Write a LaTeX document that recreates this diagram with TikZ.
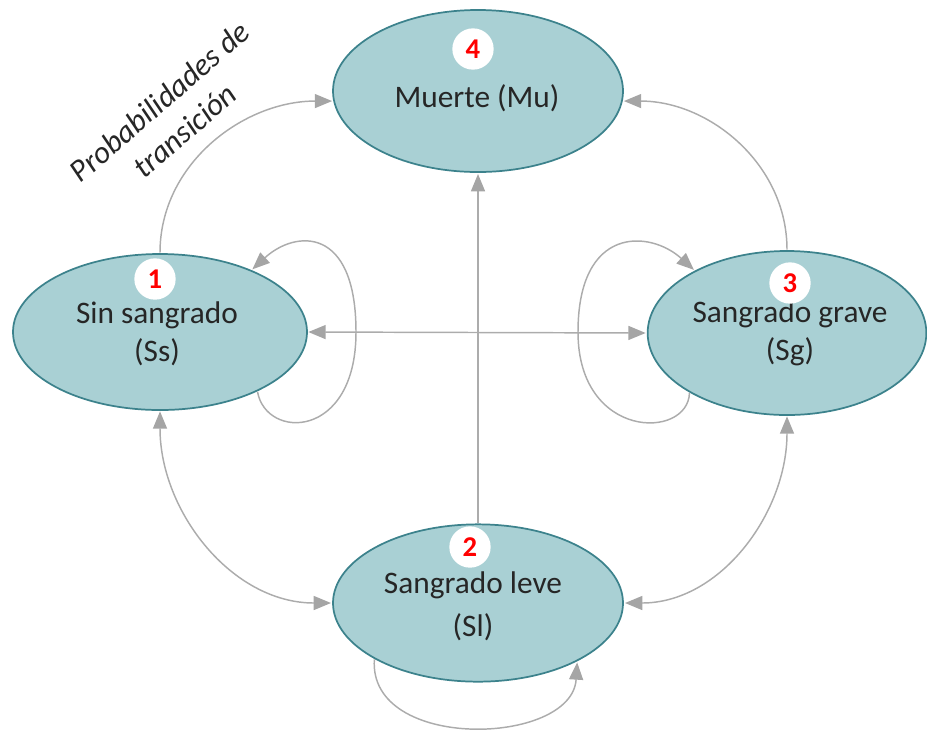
\documentclass[tikz,border=0pt]{standalone}
\usepackage{fontspec}
\setmainfont{Carlito}
\usetikzlibrary{arrows.meta,shapes.geometric}
\definecolor{efill}{RGB}{169,208,212}
\definecolor{edraw}{RGB}{60,130,140}
\definecolor{arr}{RGB}{172,172,172}
\definecolor{arrhead}{RGB}{165,165,165}
\tikzset{gt/.tip={Triangle[length=13pt,width=10.5pt,color=arrhead]}}
\begin{document}
\begin{tikzpicture}[x=0.75pt,y=-0.75pt,
  state/.style={ellipse,draw=edraw,fill=efill,line width=1.3pt,inner sep=0pt,outer sep=0pt},
  lbl/.style={font=\fontsize{23.5}{28}\selectfont,text=black!85,inner sep=0pt},
  badge/.style={circle,fill=white,minimum size=31pt,inner sep=0pt,text=red,font=\fontsize{21.5}{24}\bfseries\selectfont},
  conn/.style={draw=arr,line width=1.1pt,shorten >=1.5pt,shorten <=1pt},
  note/.style={font=\fontsize{23.5}{29}\itshape\selectfont,text=black!85,align=center,rotate=41,inner sep=0pt}]
\useasboundingbox (0,0) rectangle (927,733);
% states
\node[state,minimum width=217.5pt,minimum height=121.5pt] (mu) at (478,91) {};
\node[state,minimum width=220.5pt,minimum height=117pt] (ss) at (160,332) {};
\node[state,minimum width=209pt,minimum height=123pt] (sg) at (787,333) {};
\node[state,minimum width=217.5pt,minimum height=118pt] (sl) at (478,603) {};
% labels
\node[lbl] (tmu) at (477,98) {Muerte (Mu)};
\node[lbl] (tss1) at (157,315) {Sin sangrado};
\node[lbl] (tss2) at (157,352) {(Ss)};
\node[lbl] (tsg1) at (790,314) {Sangrado grave};
\node[lbl] (tsg2) at (790,352) {(Sg)};
\node[lbl] (tsl1) at (473,585) {Sangrado leve};
\node[lbl] (tsl2) at (473,627) {(Sl)};
% badges
\node[badge] (b4) at (473,49) {4};
\node[badge] (b1) at (155,279) {1};
\node[badge] (b3) at (790,283) {3};
\node[badge] (b2) at (470,547) {2};
% note
\node[note] (pt) at (172,116) {Probabilidades de\\transición};
% connectors
\draw[conn,-gt] (ss.north) to[out=90,in=180] (mu.184);
\draw[conn,-gt] (sg.north) to[out=90,in=0] (mu.-4);
\draw[conn,gt-gt] (ss.south) to[out=-90,in=180] (sl.west);
\draw[conn,gt-gt] (sg.south) to[out=-90,in=0] (sl.east);
\draw[conn,gt-gt] (ss.east) -- (sg.west);
\draw[conn,-gt] (sl.north) -- (mu.south);
% self loops
\draw[conn,-gt] (ss.-31) .. controls (266,440) and (356,440) .. (356,332)
  .. controls (356,225) and (295,230) .. (ss.34);
\draw[conn,-gt] (sg.211) .. controls (688,440) and (578,440) .. (578,332)
  .. controls (578,225) and (650,230) .. (sg.146);
\draw[conn,-gt] (sl.208) .. controls (368,752) and (572,746) .. (sl.-30);
\end{tikzpicture}
\end{document}
